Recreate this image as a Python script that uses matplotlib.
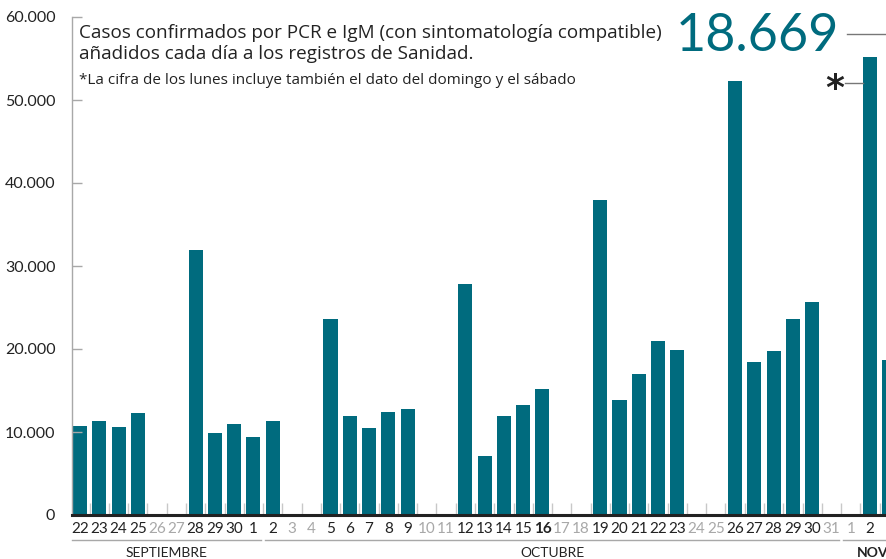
#!/usr/bin/env python3

# Casos confirmados diarios (PCR + IgM), bar chart with day labels and month bands
import matplotlib
matplotlib.use('Agg')
import matplotlib.pyplot as plt
import numpy as np

# Day labels, Sep 22 .. Nov 3
days = ['22', '23', '24', '25', '26', '27', '28', '29', '30', '1',
        '2', '3', '4', '5', '6', '7', '8', '9', '10', '11',
        '12', '13', '14', '15', '16', '17', '18', '19', '20', '21',
        '22', '23', '24', '25', '26', '27', '28', '29', '30', '31',
        '1', '2', '3']
cases = [10720, 11330, 10600, 12290, 0, 0, 31900, 9880, 10960, 9400,
         11330, 0, 0, 23600, 11930, 10480, 12410, 12770, 0, 0,
         27830, 7110, 11930, 13250, 15180, 0, 0, 37930, 13860, 16990,
         20960, 19880, 0, 0, 52250, 18430, 19760, 23610, 25660, 0,
         0, 55150, 18669]
# weekends / holidays shown in grey, highlighted day in bold
grey_days = [4, 5, 11, 12, 18, 19, 25, 26, 32, 33, 39, 40]
bold_days = [24]

months = ['SEPTIEMBRE', 'OCTUBRE', 'NOV']
month_ranges = [(0, 9), (10, 39), (40, 42)]

yticks = [0, 10000, 20000, 30000, 40000, 50000, 60000]
ylabels = ['0', '10.000', '20.000', '30.000', '40.000', '50.000', '60.000']

TEAL = '#006b7e'
GREY = '#a8a8a8'
DARK = '#222222'
FONT = 'Lato'
TFONT = 'Open Sans'

W, H = 886, 559
fig = plt.figure(figsize=(W / 100, H / 100), dpi=100)
ax = fig.add_axes([72 / W, 44 / H, (W - 72) / W, 498 / H])

x = np.arange(len(days))
ax.bar(x, cases, width=0.73, color=TEAL, zorder=1)

# Spines
for side in ['top', 'right']:
    ax.spines[side].set_visible(False)
ax.spines['left'].set_color(GREY)
ax.spines['left'].set_linewidth(1)
ax.spines['bottom'].set_color(DARK)
ax.spines['bottom'].set_linewidth(2.2)

# Y axis
ax.set_yticks(yticks)
ax.set_yticklabels(ylabels, fontfamily=FONT, fontsize=11.5, color=DARK)
ax.tick_params(axis='y', direction='in', length=7, width=1, color=GREY, pad=12)

# X axis: day labels, boundary ticks
ax.set_xticks(x)
ax.set_xticklabels(days, fontfamily=FONT, fontsize=11)
ax.set_xticks(np.arange(-0.5, len(days), 1), minor=True)
ax.tick_params(axis='x', which='major', length=0, pad=5)
ax.tick_params(axis='x', which='minor', direction='in', length=9, width=1, color='#c8c8c8')
for i, lab in enumerate(ax.get_xticklabels()):
    lab.set_color(GREY if i in grey_days else DARK)
    if i in bold_days:
        lab.set_fontweight('bold')

# limits after the ticks, so set_xticks does not widen them
ax.set_xlim(-0.415, 41.83)
ax.set_ylim(0, 60000)

# Month bands below the day labels
trans = ax.get_xaxis_transform()
for k, (name, (a, b)) in enumerate(zip(months, month_ranges)):
    ax.plot([a - 0.4, b + 0.4], [-0.05, -0.05], color=GREY, lw=1,
            transform=trans, clip_on=False)
    xc = (a + b) / 2 if k < 2 else a + 0.3
    ax.text(xc, -0.076, name, transform=trans, ha='center' if k < 2 else 'left',
            va='center', fontfamily=FONT, fontsize=10,
            fontweight='bold' if k == 2 else 'normal', color=DARK)

# Headline text
fig.text(79 / W, 1 - 33 / H, 'Casos confirmados por PCR e IgM (con sintomatología compatible)',
         fontfamily=TFONT, fontsize=13.6, color=DARK, va='center')
fig.text(79 / W, 1 - 54 / H, 'añadidos cada día a los registros de Sanidad.',
         fontfamily=TFONT, fontsize=13.6, color=DARK, va='center')
fig.text(79 / W, 1 - 80 / H, '*La cifra de los lunes incluye también el dato del domingo y el sábado',
         fontfamily=TFONT, fontsize=11, color=DARK, va='center')

# Latest value callout
ax.text(39.4, 57700, '18.669', ha='right', va='center', fontfamily=FONT,
        fontsize=37.5, color=TEAL)
ax.plot([39.8, 42.0], [57900, 57900], color='#777777', lw=1, clip_on=False)
ax.text(39.15, 51300, '*', ha='center', va='center', fontfamily='DejaVu Sans',
        fontsize=26, fontweight='bold', color=DARK)
ax.plot([39.7, 40.65], [52050, 52050], color='#777777', lw=1, clip_on=False)

fig.savefig('out.png', dpi=100)
